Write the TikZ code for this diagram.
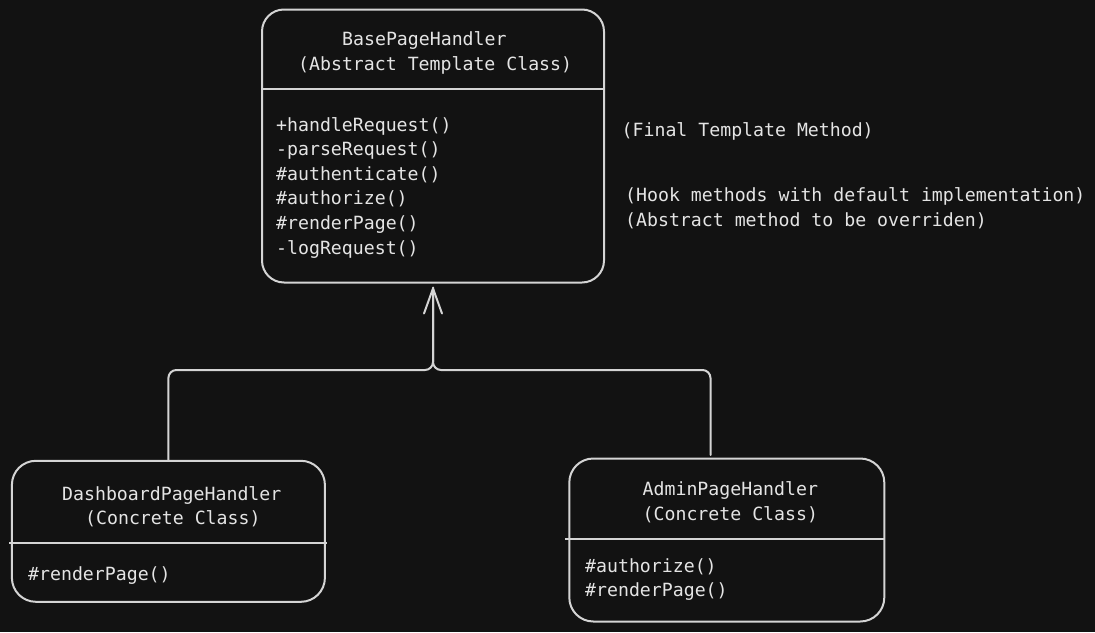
\documentclass[tikz,border=0pt]{standalone}
\usepackage{fontspec}
\setmonofont{DejaVu Sans Mono}
\usetikzlibrary{arrows.meta}
\definecolor{bg}{HTML}{121212}
\definecolor{ink}{HTML}{D4D4D4}
\definecolor{txt}{HTML}{E4E4E4}
\begin{document}
\begin{tikzpicture}[x=1pt,y=-1pt,
  box/.style={draw=ink,line width=2pt,rounded corners=#1,inner sep=0pt},
  lbl/.style={text=txt,font=\ttfamily\fontsize{18.2}{24}\selectfont,inner sep=0pt,anchor=base west},
  conn/.style={draw=ink,line width=2pt,rounded corners=8pt,line cap=round,line join=round},
  divider/.style={draw=ink,line width=2pt}]
\fill[bg] (0,0) rectangle (1095,632);
\useasboundingbox (0,0) rectangle (1095,632);

% boxes
\node[box=22pt,minimum width=342pt,minimum height=273pt] (base) at (433,146) {};
\node[box=24pt,minimum width=313pt,minimum height=141pt] (dash) at (168.4,531.3) {};
\node[box=24pt,minimum width=315pt,minimum height=163pt] (adm) at (726.8,540) {};

% dividers
\draw[divider] (base.west |- 0,89) -- (base.east |- 0,89);
\draw[divider] (9.3,542.7) -- (326.7,542.7);
\draw[divider] (565,539) -- (adm.east |- 0,539);

% base class texts
\node[lbl] (bt1) at (342,45.5) {BasePageHandler};
\node[lbl] (bt2) at (298,70) {(Abstract Template Class)};
\node[lbl] (m1) at (276,131) {+handleRequest()};
\node[lbl] (m2) at (276,155.6) {-parseRequest()};
\node[lbl] (m3) at (276,180.2) {\#authenticate()};
\node[lbl] (m4) at (276,204.8) {\#authorize()};
\node[lbl] (m5) at (276,229.4) {\#renderPage()};
\node[lbl] (m6) at (276,254) {-logRequest()};

% notes
\node[lbl] (n1) at (621.5,136.5) {(Final Template Method)};
\node[lbl] (n2) at (625,201.5) {(Hook methods with default implementation)};
\node[lbl] (n3) at (625,226.2) {(Abstract method to be overriden)};

% dashboard texts
\node[lbl] (dt1) at (62,500) {DashboardPageHandler};
\node[lbl] (dt2) at (85,524.5) {(Concrete Class)};
\node[lbl] (dm1) at (28,580) {\#renderPage()};

% admin texts
\node[lbl] (at1) at (642.5,495.7) {AdminPageHandler};
\node[lbl] (at2) at (642.5,520.3) {(Concrete Class)};
\node[lbl] (am1) at (585,572) {\#authorize()};
\node[lbl] (am2) at (585,596.6) {\#renderPage()};

% inheritance connectors
\coordinate (j) at (433,370);
\coordinate (atop) at (710.5,455);
\draw[conn] (dash.north) |- (j) -- ([yshift=-4pt]base.south);
\draw[conn,-{Straight Barb[length=25pt,width=18pt,line cap=round,line join=round]}] (atop) |- (j) -- ([yshift=-4pt]base.south);
\end{tikzpicture}
\end{document}
